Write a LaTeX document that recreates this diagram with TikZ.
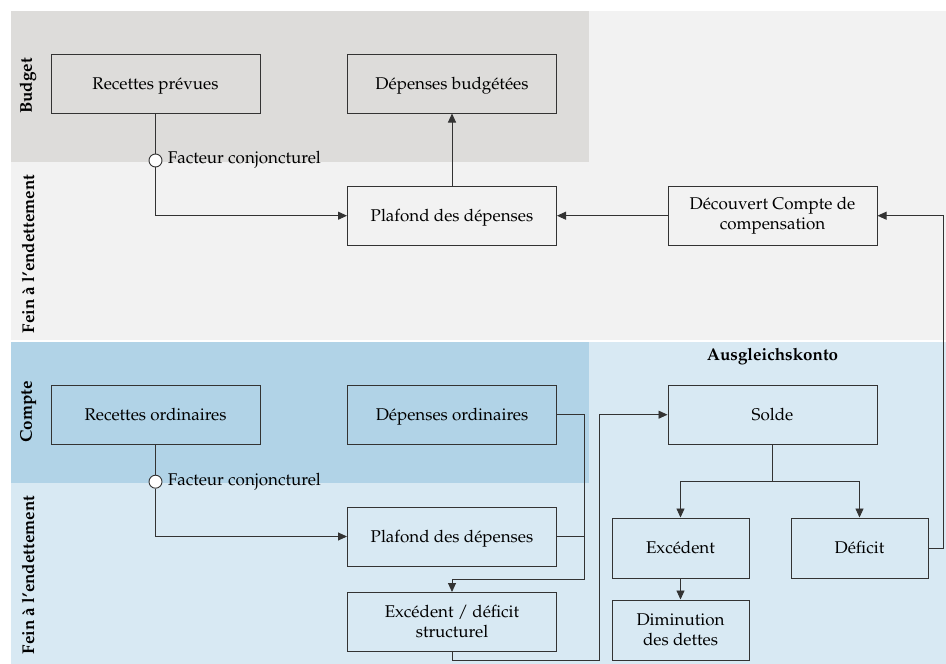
\documentclass[tikz,border=0pt]{standalone}
\usepackage[T1]{fontenc}
\renewcommand{\rmdefault}{ppl}
\usetikzlibrary{arrows.meta}
\definecolor{graydark}{HTML}{DDDCDA}
\definecolor{graylight}{HTML}{F2F2F2}
\definecolor{bluedark}{HTML}{B1D3E7}
\definecolor{bluelight}{HTML}{D8E9F3}
\definecolor{linec}{HTML}{333333}
\tikzset{
  box/.style={draw=linec, line width=1pt, minimum width=209pt, minimum height=59pt, align=center, inner sep=2pt, font=\fontsize{17}{20}\selectfont},
  one/.style={text height=15pt, text depth=3.5pt},
  sbox/.style={box, minimum width=137pt, minimum height=60pt},
  conn/.style={draw=linec, line width=0.9pt},
  arr/.style={conn, -{Triangle[length=9pt,width=8pt]}},
  lane/.style={rotate=90, font=\fontsize{17}{20}\selectfont\bfseries},
  fc/.style={circle, draw=linec, fill=white, line width=0.9pt, minimum size=13pt, inner sep=0pt},
  fclabel/.style={anchor=west, font=\fontsize{17}{20}\selectfont, inner sep=0pt},
}
\begin{document}
\begin{tikzpicture}[x=1pt,y=-1pt]
\useasboundingbox (0,0) rectangle (946,664);
% backgrounds
\fill[graylight] (10.7,10.7) rectangle (946,340);
\fill[graydark] (10.7,10.7) rectangle (588.6,162);
\fill[bluelight] (10.7,342) rectangle (946,664);
\fill[bluedark] (10.7,342) rectangle (588.6,483);
% lane labels
\node[lane] (lb) at (28,86) {Budget};
\node[lane] (lf1) at (28,254) {Fein à l'endettement};
\node[lane] (lc) at (28,412) {Compte};
\node[lane] (lf2) at (28,575) {Fein à l'endettement};
\node[font=\fontsize{17}{20}\selectfont\bfseries] (ak) at (772.5,357) {Ausgleichskonto};
% boxes
\node[box,one] (rp) at (155.5,83.5) {Recettes prévues};
\node[box,one] (db) at (452,83.5) {Dépenses budgétées};
\node[box,one] (pd1) at (452,215.7) {Plafond des dépenses};
\node[box] (dc) at (772.5,215.7) {Découvert Compte de\\compensation};
\node[box,one] (ro) at (155.5,414.7) {Recettes ordinaires};
\node[box,one] (do) at (452,414.7) {Dépenses ordinaires};
\node[box,one] (so) at (772.5,414.7) {Solde};
\node[box,one] (pd2) at (452,536.5) {Plafond des dépenses};
\node[box] (eds) at (452,622) {Excédent / déficit\\structurel};
\node[sbox,one] (exc) at (680.5,548) {Excédent};
\node[sbox,one] (def) at (859.5,548) {Déficit};
\node[sbox] (dim) at (680.5,630) {Diminution\\des dettes};
% factor circles
\node[fc] (c1) at (155.5,160.5) {};
\node[fclabel] (c1l) at (167.6,160) {Facteur conjoncturel};
\node[fc] (c2) at (155.5,481.7) {};
\node[fclabel] (c2l) at (167.6,481.7) {Facteur conjoncturel};
% coordinates
\coordinate (r1) at (943,548);
\coordinate (r2) at (943,215.7);
\coordinate (j1) at (584.4,414.7);
\coordinate (j2) at (584.4,579);
\coordinate (j3) at (452,579);
\coordinate (j4) at (584.4,536.5);
\coordinate (b1) at (452,660);
\coordinate (b2) at (599,660);
\coordinate (b3) at (599,414.7);
\coordinate (s1) at (772.5,481);
\coordinate (s2) at (680.5,481);
\coordinate (s3) at (859.5,481);
% connectors top
\draw[conn] (rp.south) -- (c1.north);
\draw[arr] (c1.south) |- (pd1.west);
\draw[arr] (pd1.north) -- (db.south);
\draw[arr] (dc.west) -- (pd1.east);
\draw[arr] (def.east) -- (r1) -- (r2) -- (dc.east);
% connectors bottom
\draw[conn] (ro.south) -- (c2.north);
\draw[arr] (c2.south) |- (pd2.west);
\draw[arr] (do.east) -- (j1) -- (j2) -- (j3) -- (eds.north);
\draw[conn] (pd2.east) -- (j4);
\draw[arr] (eds.south) -- (b1) -- (b2) -- (b3) -- (so.west);
\draw[conn] (so.south) -- (s1);
\draw[arr] (s2) -- (exc.north);
\draw[arr] (s3) -- (def.north);
\draw[conn] (s2) -- (s3);
\draw[arr] (exc.south) -- (dim.north);
\end{tikzpicture}
\end{document}
